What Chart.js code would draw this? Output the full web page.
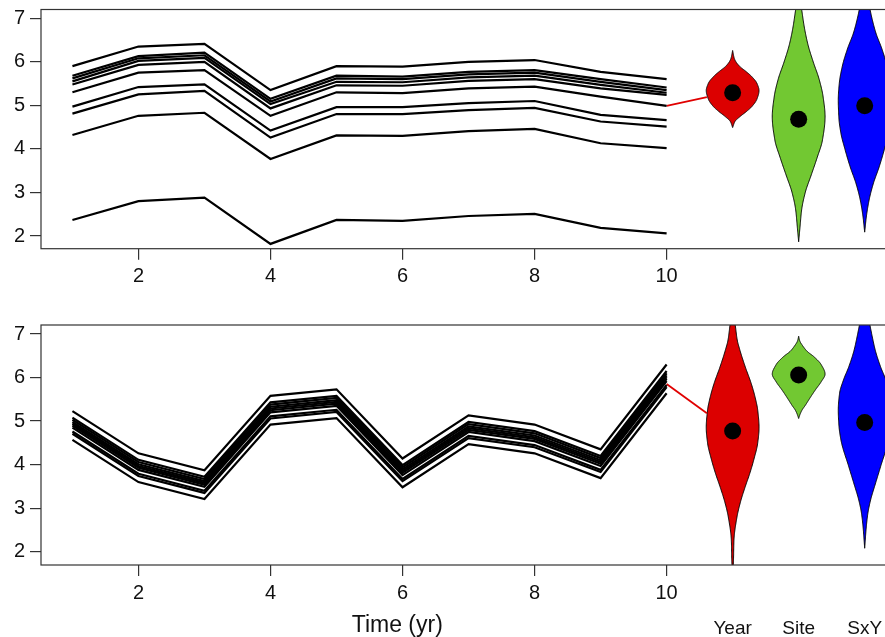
<!DOCTYPE html>
<html>
<head>
<meta charset="utf-8">
<script src="https://cdn.jsdelivr.net/npm/chart.js@4.4.0/dist/chart.umd.min.js"></script>
<style>
    html, body { margin: 0; padding: 0; background: #fff; overflow: hidden; width: 885px; height: 637px; }
    .panel { position: absolute; left: 0; }
    #topPanel { top: 0; }
    #bottomPanel { top: 300px; }
</style>
</head>
<body>
<div class="panel" id="topPanel"><canvas id="topChart" width="910" height="300"></canvas></div>
<div class="panel" id="bottomPanel"><canvas id="bottomChart" width="910" height="337"></canvas></div>
<script>
// Axis values
const years = [1, 2, 3, 4, 5, 6, 7, 8, 9, 10];
const xTicks = [2, 4, 6, 8, 10];
const yTicks = [2, 3, 4, 5, 6, 7];
const violinX = [11, 12, 13];
const violinNames = ['Year', 'Site', 'SxY'];
const violinColors = ['#dc0000', '#72c832', '#0000ff'];

// Top panel: one line per site
const topSeries = [
    [5.90, 6.35, 6.41, 5.35, 5.90, 5.89, 6.00, 6.04, 5.77, 5.60],
    [5.68, 6.13, 6.21, 5.15, 5.68, 5.66, 5.77, 5.81, 5.60, 5.41],
    [5.62, 6.08, 6.15, 5.09, 5.62, 5.60, 5.71, 5.75, 5.54, 5.35],
    [5.55, 6.02, 6.09, 5.03, 5.54, 5.53, 5.64, 5.68, 5.47, 5.29],
    [5.48, 5.93, 6.00, 4.93, 5.46, 5.45, 5.56, 5.60, 5.39, 5.24],
    [5.30, 5.75, 5.81, 4.76, 5.30, 5.28, 5.39, 5.43, 5.20, 4.99],
    [4.97, 5.42, 5.48, 4.42, 4.96, 4.96, 5.05, 5.10, 4.78, 4.66],
    [4.81, 5.25, 5.33, 4.26, 4.80, 4.80, 4.89, 4.94, 4.63, 4.51],
    [4.32, 4.76, 4.83, 3.77, 4.31, 4.30, 4.41, 4.46, 4.13, 4.02],
    [2.37, 2.80, 2.88, 1.82, 2.37, 2.35, 2.46, 2.51, 2.19, 2.06]
];

// Bottom panel: one line per site
const bottomSeries = [
    [5.23, 4.26, 3.87, 5.58, 5.73, 4.14, 5.13, 4.92, 4.35, 6.30],
    [5.08, 4.11, 3.72, 5.43, 5.58, 3.99, 4.98, 4.77, 4.20, 6.15],
    [5.03, 4.06, 3.67, 5.38, 5.53, 3.94, 4.93, 4.72, 4.15, 6.10],
    [4.98, 4.01, 3.62, 5.33, 5.48, 3.89, 4.88, 4.67, 4.10, 6.05],
    [4.94, 3.97, 3.58, 5.29, 5.44, 3.85, 4.84, 4.63, 4.06, 6.01],
    [4.90, 3.93, 3.54, 5.25, 5.40, 3.81, 4.80, 4.59, 4.02, 5.97],
    [4.85, 3.88, 3.49, 5.20, 5.35, 3.76, 4.75, 4.54, 3.97, 5.92],
    [4.76, 3.79, 3.40, 5.11, 5.26, 3.67, 4.66, 4.45, 3.88, 5.83],
    [4.71, 3.74, 3.35, 5.06, 5.21, 3.62, 4.61, 4.40, 3.83, 5.78],
    [4.57, 3.60, 3.21, 4.92, 5.07, 3.48, 4.47, 4.26, 3.69, 5.64]
];

// Medians (black dots) for Year, Site, SxY
const topMedians = [5.29, 4.68, 4.99];
const bottomMedians = [4.77, 6.06, 4.97];

// Red link from the last year to the Year violin
const linkX = [10, 10.61];
const topLink = [4.99, 5.19];
const bottomLink = [5.85, 5.18];

// Violin profiles: levels and half widths
const topYearLevels = [4.49, 4.63, 4.74, 4.86, 4.97, 5.15, 5.34, 5.50, 5.66, 5.78, 5.89, 6.00, 6.08, 6.26];
const topYearWidths = [0, 0.035, 0.11, 0.21, 0.29, 0.37, 0.40, 0.37, 0.29, 0.20, 0.11, 0.05, 0.025, 0];
const topSiteLevels = [1.87, 2.20, 2.60, 3.00, 3.40, 3.80, 4.20, 4.74, 5.20, 5.60, 6.00, 6.40, 6.80, 7.20, 7.60];
const topSiteWidths = [0, 0.02, 0.045, 0.10, 0.19, 0.28, 0.36, 0.40, 0.37, 0.31, 0.22, 0.14, 0.085, 0.045, 0];
const topSxyLevels = [2.09, 2.44, 2.82, 3.20, 3.59, 4.00, 4.36, 4.70, 5.12, 5.50, 5.89, 6.30, 6.66, 7.00, 7.21, 7.50, 7.90];
const topSxyWidths = [0, 0.025, 0.066, 0.13, 0.22, 0.30, 0.36, 0.39, 0.40, 0.385, 0.34, 0.26, 0.17, 0.11, 0.08, 0.04, 0];
const bottomYearLevels = [1.62, 1.71, 2.27, 2.80, 3.15, 3.49, 3.80, 4.11, 4.50, 4.85, 5.25, 5.55, 5.87, 6.25, 6.63, 6.86, 7.20, 7.60];
const bottomYearWidths = [0, 0.01, 0.02, 0.066, 0.12, 0.19, 0.26, 0.32, 0.38, 0.40, 0.38, 0.34, 0.28, 0.19, 0.11, 0.07, 0.04, 0];
const bottomSiteLevels = [5.06, 5.15, 5.25, 5.36, 5.48, 5.71, 5.90, 6.08, 6.30, 6.48, 6.60, 6.71, 6.85, 6.95];
const bottomSiteWidths = [0, 0.02, 0.05, 0.10, 0.15, 0.25, 0.34, 0.40, 0.34, 0.23, 0.13, 0.07, 0.015, 0];
const bottomSxyLevels = [2.08, 2.58, 2.90, 3.19, 3.55, 3.95, 4.57, 4.90, 5.25, 5.64, 5.95, 6.25, 6.63, 6.90, 7.20, 7.50, 7.90];
const bottomSxyWidths = [0, 0.025, 0.05, 0.09, 0.16, 0.24, 0.36, 0.39, 0.40, 0.38, 0.32, 0.24, 0.16, 0.12, 0.08, 0.04, 0];

const fontFamily = "'Liberation Sans', Arial, Helvetica, sans-serif";

// monotone cubic through the profile so the outline does not overshoot
function profileTangents(ys, ws) {
    const n = ys.length, d = [], m = [];
    for (let k = 0; k < n - 1; k++) d.push((ws[k + 1] - ws[k]) / (ys[k + 1] - ys[k]));
    m[0] = d[0];
    m[n - 1] = d[n - 2];
    for (let k = 1; k < n - 1; k++) {
        if (d[k - 1] * d[k] <= 0) {
            m[k] = 0;
        } else {
            const h0 = ys[k] - ys[k - 1], h1 = ys[k + 1] - ys[k];
            const w1 = 2 * h1 + h0, w2 = h1 + 2 * h0;
            m[k] = (w1 + w2) / (w1 / d[k - 1] + w2 / d[k]);
        }
    }
    return m;
}

function profileAt(ys, ws, m, v) {
    let k = 0;
    while (k < ys.length - 2 && v > ys[k + 1]) k++;
    const h = ys[k + 1] - ys[k], t = (v - ys[k]) / h;
    const t2 = t * t, t3 = t2 * t;
    const w = (2 * t3 - 3 * t2 + 1) * ws[k] + (t3 - 2 * t2 + t) * h * m[k] +
        (-2 * t3 + 3 * t2) * ws[k + 1] + (t3 - t2) * h * m[k + 1];
    return Math.max(0, w);
}

function violinPlugin(shapes) {
    return {
        id: 'violins',
        beforeDatasetsDraw(chart) {
            const ctx = chart.ctx, area = chart.chartArea;
            const xs = chart.scales.x, ys = chart.scales.y;
            ctx.save();
            ctx.beginPath();
            ctx.rect(area.left, area.top, area.right - area.left, area.bottom - area.top);
            ctx.clip();
            shapes.forEach((s, i) => {
                const m = profileTangents(s.levels, s.widths);
                const lo = s.levels[0], hi = s.levels[s.levels.length - 1];
                const cx = xs.getPixelForValue(violinX[i]);
                const steps = 300;
                const right = [], left = [];
                for (let j = 0; j <= steps; j++) {
                    const v = lo + (hi - lo) * j / steps;
                    const w = profileAt(s.levels, s.widths, m, v);
                    const dx = xs.getPixelForValue(violinX[i] + w) - cx;
                    const py = ys.getPixelForValue(v);
                    right.push([cx + dx, py]);
                    left.push([cx - dx, py]);
                }
                ctx.beginPath();
                right.forEach((p, j) => j ? ctx.lineTo(p[0], p[1]) : ctx.moveTo(p[0], p[1]));
                left.reverse().forEach(p => ctx.lineTo(p[0], p[1]));
                ctx.closePath();
                ctx.fillStyle = violinColors[i];
                ctx.fill();
                ctx.lineWidth = 1;
                ctx.strokeStyle = '#000';
                ctx.stroke();
            });
            ctx.restore();
        }
    };
}

const boxPlugin = {
    id: 'box',
    afterDraw(chart) {
        const ctx = chart.ctx, a = chart.chartArea;
        ctx.save();
        ctx.strokeStyle = '#333';
        ctx.lineWidth = 1.2;
        ctx.strokeRect(a.left, a.top, a.right - a.left, a.bottom - a.top);
        ctx.restore();
    }
};

// category names and the time axis title under the bottom panel
const bottomLabelsPlugin = {
    id: 'bottomLabels',
    afterDraw(chart) {
        const ctx = chart.ctx, xs = chart.scales.x;
        ctx.save();
        ctx.fillStyle = '#111';
        ctx.textAlign = 'center';
        ctx.textBaseline = 'alphabetic';
        ctx.font = '19px ' + fontFamily;
        violinNames.forEach((name, i) => {
            ctx.fillText(name, xs.getPixelForValue(violinX[i]), 334);
        });
        ctx.font = '23px ' + fontFamily;
        ctx.fillText('Time (yr)', xs.getPixelForValue(5.92), 332);
        ctx.restore();
    }
};

function makePanel(canvasId, series, medians, link, shapes, opts) {
    const datasets = series.map((s, i) => ({
        label: 'site ' + (i + 1),
        data: years.map((x, j) => ({ x: x, y: s[j] })),
        showLine: true,
        borderColor: '#000',
        borderWidth: 2.2,
        pointRadius: 0,
        fill: false
    }));
    datasets.push({
        label: 'link',
        data: linkX.map((x, j) => ({ x: x, y: link[j] })),
        showLine: true,
        borderColor: '#e00000',
        borderWidth: 1.8,
        pointRadius: 0
    });
    datasets.push({
        label: 'medians',
        data: violinX.map((x, j) => ({ x: x, y: medians[j] })),
        showLine: false,
        pointRadius: 8.5,
        pointBackgroundColor: '#000',
        pointBorderWidth: 0,
        clip: false
    });

    const plugins = [violinPlugin(shapes), boxPlugin];
    if (opts.extra) plugins.push(opts.extra);

    return new Chart(document.getElementById(canvasId), {
        type: 'scatter',
        data: { datasets: datasets },
        plugins: plugins,
        options: {
            responsive: false,
            animation: false,
            devicePixelRatio: 1,
            layout: { padding: { top: opts.top, left: 0, right: 10, bottom: 0 } },
            plugins: {
                legend: { display: false },
                tooltip: { enabled: false }
            },
            scales: {
                x: {
                    type: 'linear',
                    min: 0.524,
                    max: 13.535,
                    afterBuildTicks: function(scale) {
                        scale.ticks = xTicks.map(v => ({ value: v }));
                    },
                    afterFit: function(scale) {
                        scale.height = opts.xHeight;
                        scale.paddingLeft = 0;
                        scale.paddingRight = 0;
                    },
                    border: { display: false },
                    grid: { display: true, drawOnChartArea: false, drawTicks: true, tickLength: 11, color: '#333', lineWidth: 1.2 },
                    ticks: {
                        color: '#111',
                        autoSkip: false,
                        maxRotation: 0,
                        padding: 5,
                        font: { family: fontFamily, size: 20 }
                    }
                },
                y: {
                    min: opts.yMin,
                    max: opts.yMax,
                    afterBuildTicks: function(scale) {
                        scale.ticks = yTicks.map(v => ({ value: v }));
                    },
                    afterFit: function(scale) {
                        scale.width = 41;
                        scale.paddingTop = 0;
                        scale.paddingBottom = 0;
                    },
                    border: { display: false },
                    grid: { display: true, drawOnChartArea: false, drawTicks: true, tickLength: 11, color: '#333', lineWidth: 1.2 },
                    ticks: {
                        color: '#111',
                        padding: 5,
                        font: { family: fontFamily, size: 20 }
                    }
                }
            }
        }
    });
}

makePanel('topChart', topSeries, topMedians, topLink, [
    { levels: topYearLevels, widths: topYearWidths },
    { levels: topSiteLevels, widths: topSiteWidths },
    { levels: topSxyLevels, widths: topSxyWidths }
], { top: 9.5, xHeight: 51.3, yMin: 1.71, yMax: 7.20 });

makePanel('bottomChart', bottomSeries, bottomMedians, bottomLink, [
    { levels: bottomYearLevels, widths: bottomYearWidths },
    { levels: bottomSiteLevels, widths: bottomSiteWidths },
    { levels: bottomSxyLevels, widths: bottomSxyWidths }
], { top: 25, xHeight: 72, yMin: 1.695, yMax: 7.207, extra: bottomLabelsPlugin });
</script>
</body>
</html>
